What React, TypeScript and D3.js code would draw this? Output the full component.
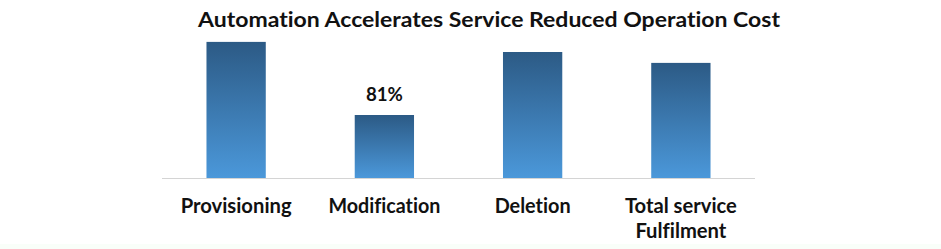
import React, { useEffect } from "react";
import * as d3 from "d3";

const TITLE = "Automation Accelerates Service Reduced Operation Cost";
const categories = ["Provisioning", "Modification", "Deletion", "Total service\nFulfilment"];
const values = [175, 81, 162, 148];
const valueLabels = ["", "81%", "", ""];

const W = 941;
const H = 249;

export default function App() {
  useEffect(() => {
    document.body.style.margin = "0";
  }, []);

  const x = d3
    .scaleBand<string>()
    .domain(categories)
    .range([162, 755])
    .paddingInner(0.6)
    .paddingOuter(0.3);
  const y = d3.scaleLinear().domain([0, 180]).range([178, 38]);

  const font = "Lato, 'Open Sans', 'DejaVu Sans', sans-serif";
  const labelWidths: Record<string, number[]> = {
    Provisioning: [111],
    Modification: [112],
    Deletion: [76],
    "Total service\nFulfilment": [112, 91],
  };

  return (
    <svg
      width={W}
      height={H}
      style={{ position: "fixed", left: 0, top: 0, display: "block", fontVariantLigatures: "none" }}
      fontFamily={font}
    >
      <defs>
        <linearGradient id="barGrad" x1="0" y1="0" x2="0" y2="1">
          <stop offset="0%" stopColor="#2c5a85" />
          <stop offset="100%" stopColor="#4b98da" />
        </linearGradient>
      </defs>
      <rect x={0} y={0} width={W} height={H} fill="#ffffff" />
      <rect x={0} y={244} width={W} height={5} fill="#f9fef9" />
      <text
        x={489}
        y={27}
        textAnchor="middle"
        fontSize={21}
        fontWeight="bold"
        fill="#111"
        textLength={582}
        lengthAdjust="spacingAndGlyphs"
      >
        {TITLE}
      </text>
      <line x1={162} x2={755} y1={178.5} y2={178.5} stroke="#d4d4d4" strokeWidth={1} />
      {categories.map((c, i) => {
        const bx = x(c)!;
        const bw = x.bandwidth();
        const top = y(values[i]);
        const cx = bx + bw / 2;
        const lines = c.split("\n");
        return (
          <g key={c}>
            <rect x={bx} y={top} width={bw} height={y(0) - top} fill="url(#barGrad)" />
            {valueLabels[i] && (
              <text
                x={cx}
                y={top - 14}
                textAnchor="middle"
                fontSize={18}
                fontWeight="bold"
                fill="#111"
                textLength={37}
                lengthAdjust="spacingAndGlyphs"
              >
                {valueLabels[i]}
              </text>
            )}
            {lines.map((ln, j) => (
              <text
                key={j}
                x={cx}
                y={213 + j * 25}
                textAnchor="middle"
                fontSize={21}
                fontWeight="bold"
                fill="#111"
                textLength={labelWidths[c][j]}
                lengthAdjust="spacingAndGlyphs"
              >
                {ln}
              </text>
            ))}
          </g>
        );
      })}
    </svg>
  );
}
